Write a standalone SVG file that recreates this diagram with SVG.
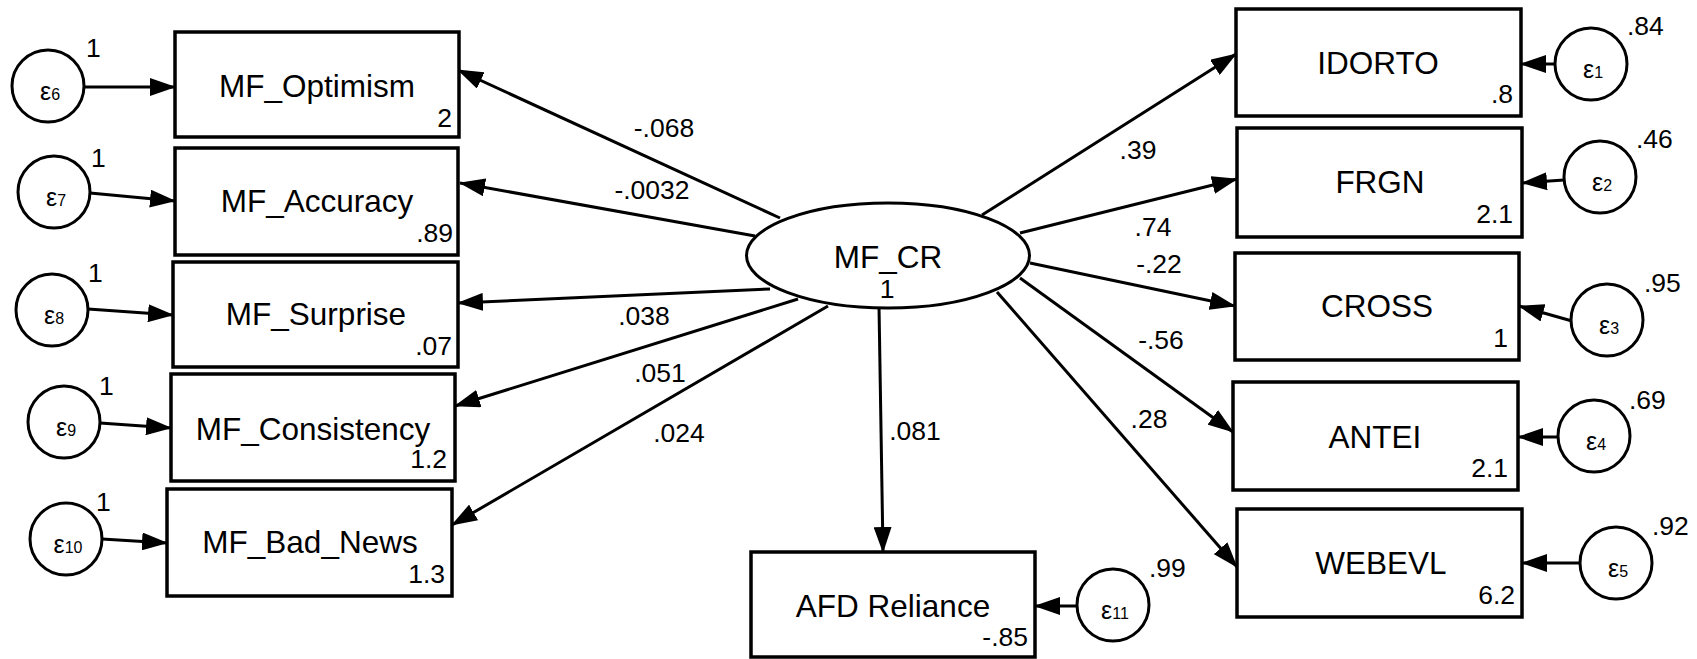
<svg xmlns="http://www.w3.org/2000/svg" width="1697" height="659" viewBox="0 0 1697 659">
<style>
  text { font-family: "Liberation Sans", Arial, sans-serif; fill: #000; }
  .box { fill: #fff; stroke: #000; stroke-width: 3.5; }
  .err { fill: #fff; stroke: #000; stroke-width: 3; }
  .lat { fill: #fff; stroke: #000; stroke-width: 3; }
  .name { font-size: 31.5px; text-anchor: middle; }
  .val { font-size: 26.5px; text-anchor: end; }
  .lbl { font-size: 26.5px; text-anchor: middle; }
  .var { font-size: 26.5px; text-anchor: start; }
  .eps { font-size: 25px; text-anchor: middle; }
  .sub { font-size: 16px; }
  .conn path { fill: none; stroke: #000; stroke-width: 3; marker-end: url(#ah); }
</style>
<defs>
  <marker id="ah" markerUnits="userSpaceOnUse" markerWidth="26" markerHeight="18" viewBox="0 0 26 18" refX="25" refY="9" orient="auto">
    <path d="M0,0 L26,9 L0,18 z" fill="#000"/>
  </marker>
</defs>
<rect width="1697" height="659" fill="#fff"/>

<g id="connectors" class="conn">
  <path d="M84,87 L175,87"/>
  <path d="M90,193 L175,201"/>
  <path d="M88,309 L173,315"/>
  <path d="M100,423 L171,428"/>
  <path d="M102,539 L167,543"/>
  <path d="M1555,64 L1521,64"/>
  <path d="M1564,180 L1522,183"/>
  <path d="M1572,321 L1519,306"/>
  <path d="M1558,437 L1518,437"/>
  <path d="M1580,563 L1522,563"/>
  <path d="M1077,606 L1035,606"/>
  <path d="M780,218 L458,70"/>
  <path d="M755,236 L460,183"/>
  <path d="M770,289 L458,303"/>
  <path d="M798,299 L455,406"/>
  <path d="M828,306 L452,525"/>
  <path d="M879,306 L883,552"/>
  <path d="M982,215 L1236,54"/>
  <path d="M1020,233 L1237,179"/>
  <path d="M1030,263 L1235,306"/>
  <path d="M1020,278 L1233,432"/>
  <path d="M997,292 L1237,567"/>
</g>

<g id="connector-labels">
  <text class="lbl" x="664" y="137">-.068</text>
  <text class="lbl" x="652" y="199">-.0032</text>
  <text class="lbl" x="644" y="325">.038</text>
  <text class="lbl" x="660" y="382">.051</text>
  <text class="lbl" x="679" y="442">.024</text>
  <text class="lbl" x="915" y="440">.081</text>
  <text class="lbl" x="1138" y="159">.39</text>
  <text class="lbl" x="1153" y="236">.74</text>
  <text class="lbl" x="1159" y="273">-.22</text>
  <text class="lbl" x="1161" y="349">-.56</text>
  <text class="lbl" x="1149" y="428">.28</text>
</g>

<g id="MF_CR">
  <ellipse class="lat" cx="888" cy="255.5" rx="141.5" ry="52.5"/>
  <text class="name" x="888" y="268">MF_CR</text>
  <text class="lbl" x="887" y="298">1</text>
</g>

<g id="MF_Optimism">
  <rect class="box" x="175" y="32" width="284" height="105"/>
  <text class="name" x="317" y="97">MF_Optimism</text>
  <text class="val" x="452" y="127">2</text>
</g>
<g id="MF_Accuracy">
  <rect class="box" x="175" y="148" width="283" height="107"/>
  <text class="name" x="317" y="212">MF_Accuracy</text>
  <text class="val" x="453" y="242">.89</text>
</g>
<g id="MF_Surprise">
  <rect class="box" x="173" y="262" width="285" height="105"/>
  <text class="name" x="316" y="325">MF_Surprise</text>
  <text class="val" x="452" y="355">.07</text>
</g>
<g id="MF_Consistency">
  <rect class="box" x="171" y="374" width="284" height="107"/>
  <text class="name" x="313" y="440">MF_Consistency</text>
  <text class="val" x="447" y="468">1.2</text>
</g>
<g id="MF_Bad_News">
  <rect class="box" x="167" y="489" width="285" height="107"/>
  <text class="name" x="310" y="553">MF_Bad_News</text>
  <text class="val" x="445" y="583">1.3</text>
</g>

<g id="IDORTO">
  <rect class="box" x="1236" y="9" width="285" height="107"/>
  <text class="name" x="1378" y="74">IDORTO</text>
  <text class="val" x="1513" y="103">.8</text>
</g>
<g id="FRGN">
  <rect class="box" x="1237" y="128" width="285" height="109"/>
  <text class="name" x="1380" y="193">FRGN</text>
  <text class="val" x="1513" y="223">2.1</text>
</g>
<g id="CROSS">
  <rect class="box" x="1235" y="253" width="284" height="107"/>
  <text class="name" x="1377" y="317">CROSS</text>
  <text class="val" x="1508" y="347">1</text>
</g>
<g id="ANTEI">
  <rect class="box" x="1233" y="382" width="285" height="108"/>
  <text class="name" x="1375" y="448">ANTEI</text>
  <text class="val" x="1508" y="477">2.1</text>
</g>
<g id="WEBEVL">
  <rect class="box" x="1237" y="509" width="285" height="108"/>
  <text class="name" x="1381" y="574">WEBEVL</text>
  <text class="val" x="1515" y="604">6.2</text>
</g>
<g id="AFD_Reliance">
  <rect class="box" x="751" y="552" width="284" height="105"/>
  <text class="name" x="893" y="617">AFD Reliance</text>
  <text class="val" x="1028" y="646">-.85</text>
</g>

<g id="e6">
  <circle class="err" cx="48" cy="86" r="36"/>
  <text class="eps" x="50" y="100">ε<tspan class="sub">6</tspan></text>
  <text class="var" x="86" y="57">1</text>
</g>
<g id="e7">
  <circle class="err" cx="54" cy="192" r="36"/>
  <text class="eps" x="56" y="206">ε<tspan class="sub">7</tspan></text>
  <text class="var" x="91" y="167">1</text>
</g>
<g id="e8">
  <circle class="err" cx="52" cy="310" r="36"/>
  <text class="eps" x="54" y="324">ε<tspan class="sub">8</tspan></text>
  <text class="var" x="88" y="282">1</text>
</g>
<g id="e9">
  <circle class="err" cx="64" cy="422" r="36"/>
  <text class="eps" x="66" y="436">ε<tspan class="sub">9</tspan></text>
  <text class="var" x="99" y="395">1</text>
</g>
<g id="e10">
  <circle class="err" cx="66" cy="539" r="36"/>
  <text class="eps" x="68" y="553">ε<tspan class="sub">10</tspan></text>
  <text class="var" x="96" y="511">1</text>
</g>
<g id="e1">
  <circle class="err" cx="1591" cy="64" r="36"/>
  <text class="eps" x="1593" y="78">ε<tspan class="sub">1</tspan></text>
  <text class="var" x="1627" y="35">.84</text>
</g>
<g id="e2">
  <circle class="err" cx="1600" cy="177" r="36"/>
  <text class="eps" x="1602" y="191">ε<tspan class="sub">2</tspan></text>
  <text class="var" x="1636" y="148">.46</text>
</g>
<g id="e3">
  <circle class="err" cx="1607" cy="320" r="36"/>
  <text class="eps" x="1609" y="334">ε<tspan class="sub">3</tspan></text>
  <text class="var" x="1644" y="292">.95</text>
</g>
<g id="e4">
  <circle class="err" cx="1594" cy="436" r="36"/>
  <text class="eps" x="1596" y="450">ε<tspan class="sub">4</tspan></text>
  <text class="var" x="1629" y="409">.69</text>
</g>
<g id="e5">
  <circle class="err" cx="1616" cy="563" r="36"/>
  <text class="eps" x="1618" y="577">ε<tspan class="sub">5</tspan></text>
  <text class="var" x="1652" y="535">.92</text>
</g>
<g id="e11">
  <circle class="err" cx="1113" cy="605" r="36"/>
  <text class="eps" x="1115" y="619">ε<tspan class="sub">11</tspan></text>
  <text class="var" x="1149" y="577">.99</text>
</g>
</svg>
